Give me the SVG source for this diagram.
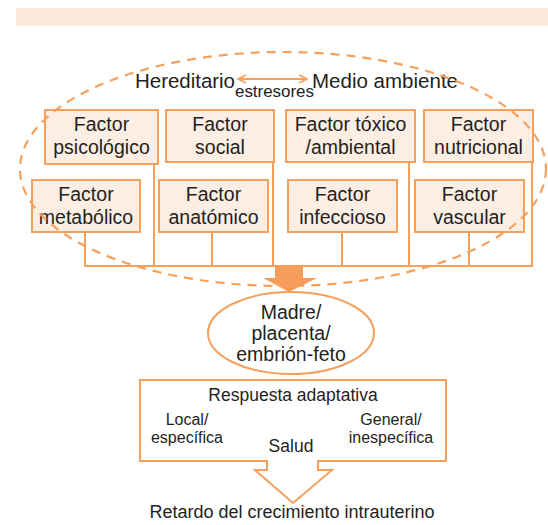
<svg xmlns="http://www.w3.org/2000/svg" width="548" height="525" viewBox="0 0 548 525">
<defs>
<style>
text{font-family:"Liberation Sans",Arial,sans-serif;fill:#231f20;}
.box{fill:#fdeee3;stroke:#f6a05e;stroke-width:2;}
.ft{font-size:19.5px;text-anchor:middle;}
.ln{fill:none;stroke:#f6a05e;stroke-width:2;}
.sm{font-size:17.5px;text-anchor:middle;}
.sd{font-size:16px;text-anchor:middle;}
</style>
<marker id="chev" viewBox="0 0 10 10" refX="9" refY="5" markerWidth="10" markerHeight="10" markerUnits="userSpaceOnUse" orient="auto-start-reverse">
<path d="M1,1 L9,5 L1,9" fill="none" stroke="#f6a05e" stroke-width="1.6"/>
</marker>
</defs>
<rect x="16" y="8" width="532" height="18" fill="#fde9dc"/>
<g id="top-labels">
<text x="135" y="88" font-size="20.5" textLength="100">Hereditario</text>
<text x="312" y="88" font-size="20.5" textLength="146">Medio ambiente</text>
<text x="235" y="97" font-size="17" textLength="79">estresores</text>
</g>
<g id="connectors">
<line class="ln" x1="238" y1="79" x2="307" y2="79" marker-start="url(#chev)" marker-end="url(#chev)"/>
<path class="ln" d="M85,232V266H532V162M154,164V266M212,232V266M273,162V266M409,162V266M342,232V266M469,232V266"/>
<path d="M275,266H303V278H317L289,292L263,278H275Z" fill="#f79d5c"/>
</g>
<g id="psicologico"><rect class="box" x="45" y="110" width="113" height="54"/><text class="ft" x="101.5" y="131">Factor</text><text class="ft" x="101.5" y="154">psicológico</text></g>
<g id="social"><rect class="box" x="166" y="110" width="108" height="52"/><text class="ft" x="220" y="131">Factor</text><text class="ft" x="220" y="154">social</text></g>
<g id="toxico"><rect class="box" x="286" y="110" width="129" height="52"/><text class="ft" x="350.5" y="131">Factor tóxico</text><text class="ft" x="350.5" y="154">/ambiental</text></g>
<g id="nutricional"><rect class="box" x="424" y="110" width="109" height="52"/><text class="ft" x="478.5" y="131">Factor</text><text class="ft" x="478.5" y="154">nutricional</text></g>
<g id="metabolico"><rect class="box" x="32" y="180" width="108" height="52"/><text class="ft" x="86" y="201">Factor</text><text class="ft" x="86" y="224">metabólico</text></g>
<g id="anatomico"><rect class="box" x="159" y="180" width="109" height="52"/><text class="ft" x="213.5" y="201">Factor</text><text class="ft" x="213.5" y="224">anatómico</text></g>
<g id="infeccioso"><rect class="box" x="288" y="180" width="109" height="52"/><text class="ft" x="342.5" y="201">Factor</text><text class="ft" x="342.5" y="224">infeccioso</text></g>
<g id="vascular"><rect class="box" x="415" y="180" width="109" height="52"/><text class="ft" x="469.5" y="201">Factor</text><text class="ft" x="469.5" y="224">vascular</text></g>
<ellipse id="boundary" cx="283" cy="169" rx="263" ry="117" fill="none" stroke="#f6a05e" stroke-width="2.2" stroke-dasharray="9,7"/>
<g id="madre">
<ellipse cx="291" cy="333" rx="83" ry="41" fill="#fff" stroke="#f6a05e" stroke-width="2"/>
<text class="ft" x="291" y="319" font-size="18">Madre/</text>
<text class="ft" x="291" y="340" font-size="18">placenta/</text>
<text class="ft" x="291" y="361" font-size="18">embrión-feto</text>
</g>
<g id="respuesta">
<path d="M140,380H446V461H318V470H332L293,503L255,470H267V461H140Z" fill="#fff" stroke="#f6a05e" stroke-width="2"/>
<text class="sm" x="293" y="401">Respuesta adaptativa</text>
<text class="sd" x="187" y="425">Local/</text>
<text class="sd" x="187" y="443">específica</text>
<text class="sm" x="291" y="452">Salud</text>
<text class="sd" x="391" y="425">General/</text>
<text class="sd" x="391" y="443">inespecífica</text>
</g>
<text id="retardo" x="292" y="518" font-size="18" text-anchor="middle">Retardo del crecimiento intrauterino</text>
</svg>
